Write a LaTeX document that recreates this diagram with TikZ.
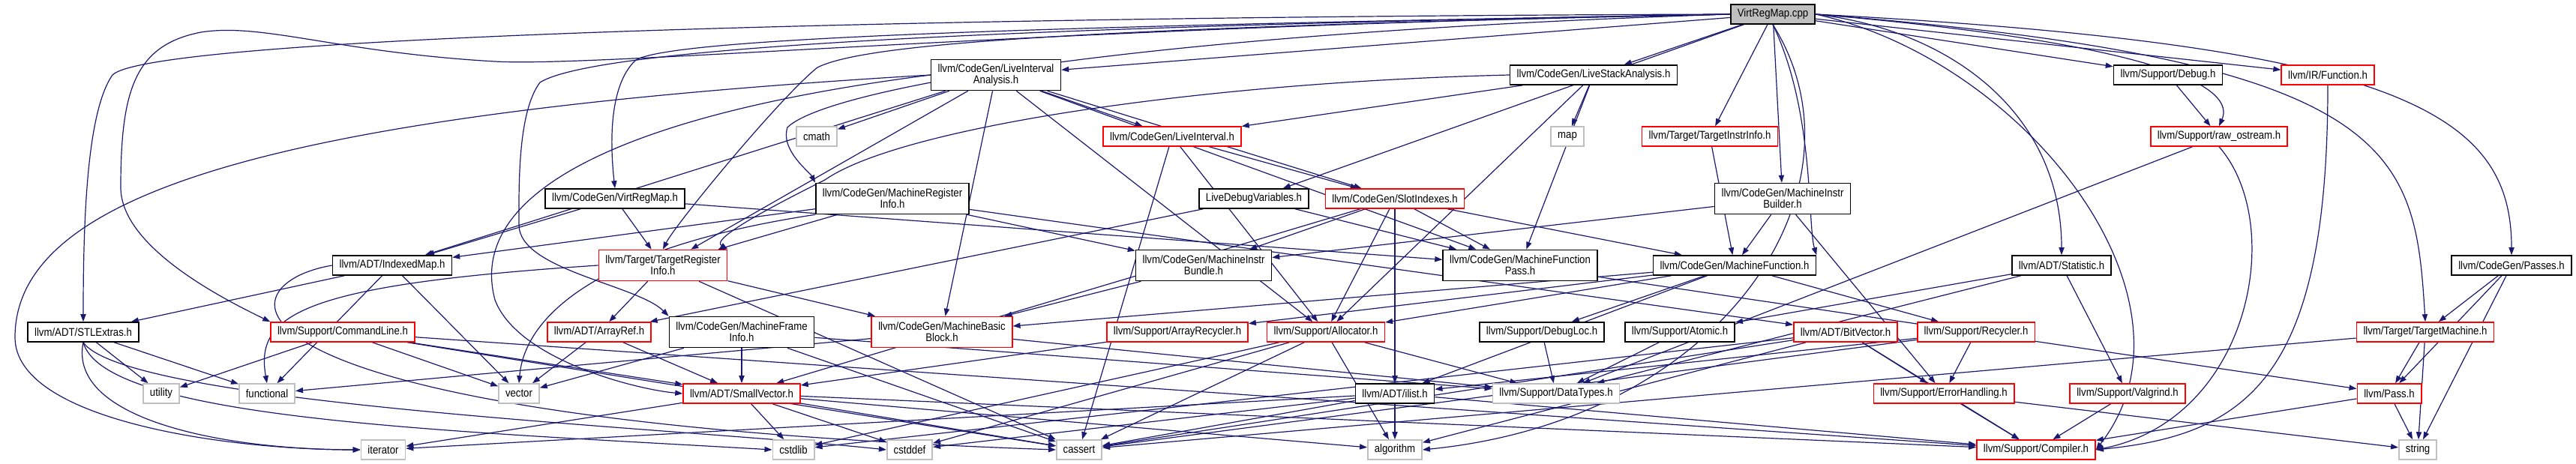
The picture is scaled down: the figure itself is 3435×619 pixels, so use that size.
\documentclass[tikz,border=0pt]{standalone}
\usepackage{fontspec}
\setmainfont{Liberation Sans}[FakeStretch=0.88]
\usetikzlibrary{arrows.meta, backgrounds}

\definecolor{edgeblue}{HTML}{191970}
\definecolor{sysgray}{HTML}{BFBFBF}

\tikzset{
  hdr/.style={draw=black, line width=0.8pt, fill=white, inner xsep=4.5pt, inner ysep=1pt,
    minimum height=13pt, align=center, font=\fontsize{7.5}{7.5}\selectfont},
  redhdr/.style={hdr, draw=red},
  syshdr/.style={hdr, draw=sysgray},
  roothdr/.style={hdr, fill=sysgray},
  twoline/.style={minimum height=20.5pt},
  inc/.style={draw=edgeblue, line width=0.6pt, -{Triangle[length=5pt,width=3.6pt]}},
}

\begin{document}
\begin{tikzpicture}[x=0.5pt, y=-0.5pt]
    \useasboundingbox (0,0) rectangle (3435,619);

    \node[roothdr] (root) at (2364,19) {VirtRegMap.cpp};

    \node[hdr,twoline] (lia) at (1328,100) {llvm/CodeGen/LiveInterval\\Analysis.h};
    \node[hdr] (lsa) at (2125,100) {llvm/CodeGen/LiveStackAnalysis.h};
    \node[hdr] (dbg) at (2891,100) {llvm/Support/Debug.h};
    \node[redhdr] (fn) at (3104,100) {llvm/IR/Function.h};

    \node[syshdr] (cmath) at (1089,182) {cmath};
    \node[redhdr] (li) at (1563,182) {llvm/CodeGen/LiveInterval.h};
    \node[syshdr] (map) at (2090,182) {map};
    \node[redhdr] (tii) at (2280,182) {llvm/Target/TargetInstrInfo.h};
    \node[redhdr] (ros) at (2959,182) {llvm/Support/raw\_ostream.h};

    \node[hdr] (vrm) at (820,265) {llvm/CodeGen/VirtRegMap.h};
    \node[hdr,twoline] (mri) at (1190,265) {llvm/CodeGen/MachineRegister\\Info.h};
    \node[hdr] (ldv) at (1672,265) {LiveDebugVariables.h};
    \node[redhdr] (si) at (1860,265) {llvm/CodeGen/SlotIndexes.h};
    \node[hdr,twoline] (mib) at (2377,265) {llvm/CodeGen/MachineInstr\\Builder.h};

    \node[hdr] (imap) at (523,354) {llvm/ADT/IndexedMap.h};
    \node[redhdr,twoline] (tri) at (884,354) {llvm/Target/TargetRegister\\Info.h};
    \node[hdr,twoline] (bundle) at (1605,354) {llvm/CodeGen/MachineInstr\\Bundle.h};
    \node[hdr,twoline] (mfp) at (2027,354) {llvm/CodeGen/MachineFunction\\Pass.h};
    \node[hdr] (mf) at (2313,354) {llvm/CodeGen/MachineFunction.h};
    \node[hdr] (stat) at (2749,354) {llvm/ADT/Statistic.h};
    \node[hdr] (passes) at (3349,354) {llvm/CodeGen/Passes.h};

    \node[hdr] (stl) at (111,443) {llvm/ADT/STLExtras.h};
    \node[redhdr] (cl) at (457,443) {llvm/Support/CommandLine.h};
    \node[redhdr] (aref) at (799,443) {llvm/ADT/ArrayRef.h};
    \node[hdr,twoline] (mfi) at (989,443) {llvm/CodeGen/MachineFrame\\Info.h};
    \node[redhdr,twoline] (mbb) at (1256,443) {llvm/CodeGen/MachineBasic\\Block.h};
    \node[redhdr] (arec) at (1570,443) {llvm/Support/ArrayRecycler.h};
    \node[redhdr] (alloc) at (1768,443) {llvm/Support/Allocator.h};
    \node[hdr] (dloc) at (2056,443) {llvm/Support/DebugLoc.h};
    \node[hdr] (atomic) at (2240,443) {llvm/Support/Atomic.h};
    \node[redhdr] (bv) at (2461,443) {llvm/ADT/BitVector.h};
    \node[redhdr] (rec) at (2635,443) {llvm/Support/Recycler.h};
    \node[redhdr] (tm) at (3234,443) {llvm/Target/TargetMachine.h};

    \node[syshdr] (utility) at (215,525) {utility};
    \node[syshdr] (functional) at (356,525) {functional};
    \node[syshdr] (vector) at (692,525) {vector};
    \node[redhdr] (svec) at (989,525) {llvm/ADT/SmallVector.h};
    \node[hdr] (ilist) at (1860,525) {llvm/ADT/ilist.h};
    \node[syshdr] (dtypes) at (2075,525) {llvm/Support/DataTypes.h};
    \node[redhdr] (eh) at (2592,525) {llvm/Support/ErrorHandling.h};
    \node[redhdr] (vg) at (2837,525) {llvm/Support/Valgrind.h};
    \node[redhdr] (pass) at (3186,525) {llvm/Pass.h};

    \node[syshdr] (iterator) at (511,600) {iterator};
    \node[syshdr] (cstdlib) at (1058,600) {cstdlib};
    \node[syshdr] (cstddef) at (1213,600) {cstddef};
    \node[syshdr] (cassert) at (1439,600) {cassert};
    \node[syshdr] (algorithm) at (1860,600) {algorithm};
    \node[redhdr] (comp) at (2715,600) {llvm/Support/Compiler.h};
    \node[syshdr] (string) at (3224,600) {string};

    \begin{scope}[on background layer]
    % straight includes
    \foreach \a/\b in {root/lia, root/lsa, root/tii, root/mib, root/dbg, root/fn, root/ldv,
        lia/cmath, lia/li, lia/si, lia/mbb, lia/alloc, lia/mfp, lia/imap, lia/tri,
        lsa/map, lsa/li, lsa/mfp, lsa/alloc, li/si, li/cassert, li/alloc,
        si/bundle, si/svec, si/ilist, si/mf, si/mfp, si/alloc,
        vrm/imap, vrm/tri, vrm/mfp, ldv/aref, ldv/mfp,
        mri/bv, mri/imap, mri/bundle, mri/tri, mib/mf, mib/bundle, mib/eh,
        tii/mf, dbg/ros, ros/dtypes, bundle/mbb, mfp/pass,
        mf/ilist, mf/mbb, mf/alloc, mf/arec, mf/dloc, mf/rec,
        stat/atomic, stat/dtypes, stat/vg, passes/tm, passes/pass, passes/string,
        imap/stl, imap/vector, imap/functional, tri/aref, tri/mbb, tri/cassert,
        stl/utility, stl/functional, cl/utility, cl/vector, cl/svec, cl/cassert, cl/comp,
        aref/svec, aref/vector, mfi/svec, mfi/vector, mfi/cassert, mfi/dtypes,
        mbb/functional, mbb/dtypes, arec/svec,
        alloc/cstdlib, alloc/cstddef, alloc/cassert, alloc/algorithm, alloc/dtypes,
        dloc/dtypes, atomic/dtypes, bv/comp, bv/eh, bv/algorithm, bv/cassert, bv/cstdlib,
        rec/ilist, rec/cassert, rec/eh, tm/pass, tm/string, tm/cassert,
        svec/iterator, svec/cstdlib, svec/cstddef, svec/cassert, svec/algorithm, svec/comp,
        ilist/iterator, ilist/cassert, ilist/cstddef, ilist/algorithm, ilist/comp,
        eh/comp, eh/string, vg/comp, pass/string, pass/comp}
      \draw[inc] (\a) -- (\b);

    % long routes round the graph
    \draw[inc] (root.west) .. controls (1200,22) and (200,50) .. (150,100)
      .. controls (115,150) and (111,300) .. (stl.north);
    \draw[inc] (root.west) .. controls (1400,35) and (800,90) .. (660,82)
      .. controls (450,70) and (350,30) .. (268,43)
      .. controls (180,60) and (161,120) .. (161,250)
      .. controls (161,330) and (300,400) .. (cl.north west);
    \draw[inc] (root.west) .. controls (1400,35) and (900,50) .. (848,80)
      .. controls (815,110) and (812,180) .. (vrm.north);
    \draw[inc] (root.west) .. controls (1400,35) and (800,60) .. (720,110)
      .. controls (690,150) and (692,250) .. (692,300)
      .. controls (692,360) and (850,380) .. (mfi.north west);
    \draw[inc] (root.west) .. controls (1400,38) and (1150,60) .. (1090,90)
      .. controls (1040,130) and (900,300) .. (tri.north);
    \draw[inc] (root.west) .. controls (1500,45) and (1100,120) .. (1050,170)
      .. controls (1040,200) and (1080,230) .. (mri.north west);
    \draw[inc] (root.east) .. controls (2600,40) and (2749,150) .. (stat.north);
    \draw[inc] (root.east) .. controls (2900,60) and (2980,120) .. (ros.north);
    \draw[inc] (root.south) .. controls (2420,150) and (2410,300) .. (mf.north east);
    \draw[inc] (root.east) .. controls (3200,60) and (3349,150) .. (passes.north);
    \draw[inc] (root.east) .. controls (3200,80) and (3220,200) .. (tm.north);
    \draw[inc] (root.east) .. controls (2700,80) and (2950,400) .. (comp.east);
    \draw[inc] (root.south) .. controls (2500,250) and (2300,560) .. (algorithm.east);
    \draw[inc] (fn.south) .. controls (3104,500) and (3000,580) .. (comp.east);
    \draw[inc] (ros.south) .. controls (3050,300) and (3000,560) .. (comp.east);
    \draw[inc] (lia.west) .. controls (400,150) and (20,250) .. (20,450)
      .. controls (20,560) and (300,600) .. (iterator.west);
    \draw[inc] (lia.west) .. controls (850,150) and (620,250) .. (660,400)
      .. controls (690,480) and (850,520) .. (svec.west);
    \draw[inc] (lsa.west) .. controls (1600,110) and (1200,170) .. (1100,240)
      .. controls (1000,290) and (950,320) .. (tri.north east);
    \draw[inc] (mri.south west) .. controls (800,330) and (700,420) .. (vector.north);
    \draw[inc] (stl.south) .. controls (90,560) and (300,600) .. (iterator.west);
    \draw[inc] (stl.south) .. controls (140,560) and (600,575) .. (cstdlib.west);
    \draw[inc] (stl.south) .. controls (170,540) and (900,570) .. (cstddef.west);
    \draw[inc] (imap.west) .. controls (290,380) and (260,560) .. (cassert.west);
    \draw[inc] (tri.west) .. controls (400,380) and (340,420) .. (functional.north);
    \end{scope}
  \end{tikzpicture}
\end{document}
